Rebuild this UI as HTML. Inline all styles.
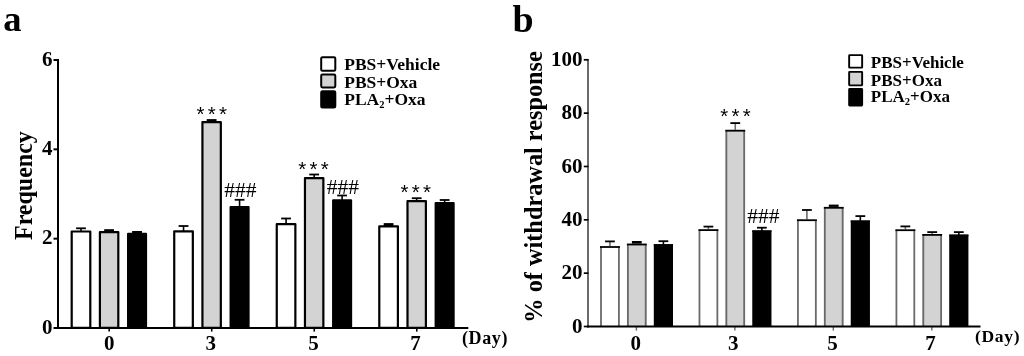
<!DOCTYPE html>
<html><head><meta charset="utf-8"><title>Figure</title>
<style>html,body{margin:0;padding:0;background:#fff;width:1024px;height:356px;overflow:hidden}svg{display:block;will-change:transform}</style>
</head><body>
<svg width="1024" height="356" viewBox="0 0 1024 356">
<rect width="1024" height="356" fill="#fff"/>
<text transform="translate(3.30,30.60) scale(1.03,1.0)" font-family='"Liberation Serif", serif' font-size="35.5" font-weight="bold" text-anchor="start" >a</text>
<line x1="81.00" y1="228.30" x2="81.00" y2="231.40" stroke="#000" stroke-width="1.6" />
<line x1="76.10" y1="228.30" x2="85.90" y2="228.30" stroke="#000" stroke-width="1.8" />
<rect x="71.70" y="231.50" width="18.60" height="96.40" rx="0" fill="#fff" stroke="#000" stroke-width="2.2" stroke-linejoin="round"/>
<rect x="104.20" y="229.20" width="9.80" height="2.80" fill="#000"/>
<rect x="99.90" y="232.10" width="18.40" height="95.80" rx="0" fill="#d3d3d3" stroke="#000" stroke-width="2.2" stroke-linejoin="round"/>
<rect x="132.15" y="231.00" width="9.80" height="2.70" fill="#000"/>
<rect x="128.10" y="233.80" width="17.90" height="94.10" rx="0" fill="#000" stroke="#000" stroke-width="2.2" stroke-linejoin="round"/>
<line x1="109.20" y1="329.00" x2="109.20" y2="331.60" stroke="#000" stroke-width="1.6" />
<text x="109.20" y="350.20" font-family='"Liberation Serif", serif' font-size="21" font-weight="bold" text-anchor="middle" >0</text>
<line x1="183.53" y1="226.00" x2="183.53" y2="231.20" stroke="#000" stroke-width="1.6" />
<line x1="178.63" y1="226.00" x2="188.43" y2="226.00" stroke="#000" stroke-width="1.8" />
<rect x="174.23" y="231.30" width="18.60" height="96.60" rx="0" fill="#fff" stroke="#000" stroke-width="2.2" stroke-linejoin="round"/>
<rect x="206.73" y="119.10" width="9.80" height="3.00" fill="#000"/>
<rect x="202.43" y="122.20" width="18.40" height="205.70" rx="0" fill="#d3d3d3" stroke="#000" stroke-width="2.2" stroke-linejoin="round"/>
<line x1="239.58" y1="199.80" x2="239.58" y2="206.90" stroke="#000" stroke-width="1.6" />
<line x1="234.68" y1="199.80" x2="244.48" y2="199.80" stroke="#000" stroke-width="1.8" />
<rect x="230.63" y="207.00" width="17.90" height="120.90" rx="0" fill="#000" stroke="#000" stroke-width="2.2" stroke-linejoin="round"/>
<line x1="211.73" y1="329.00" x2="211.73" y2="331.60" stroke="#000" stroke-width="1.6" />
<text x="210.73" y="350.20" font-family='"Liberation Serif", serif' font-size="21" font-weight="bold" text-anchor="middle" >3</text>
<line x1="286.06" y1="218.50" x2="286.06" y2="224.10" stroke="#000" stroke-width="1.6" />
<line x1="281.16" y1="218.50" x2="290.96" y2="218.50" stroke="#000" stroke-width="1.8" />
<rect x="276.76" y="224.20" width="18.60" height="103.70" rx="0" fill="#fff" stroke="#000" stroke-width="2.2" stroke-linejoin="round"/>
<line x1="314.16" y1="174.50" x2="314.16" y2="178.10" stroke="#000" stroke-width="1.6" />
<line x1="309.26" y1="174.50" x2="319.06" y2="174.50" stroke="#000" stroke-width="1.8" />
<rect x="304.96" y="178.20" width="18.40" height="149.70" rx="0" fill="#d3d3d3" stroke="#000" stroke-width="2.2" stroke-linejoin="round"/>
<line x1="342.11" y1="195.50" x2="342.11" y2="200.30" stroke="#000" stroke-width="1.6" />
<line x1="337.21" y1="195.50" x2="347.01" y2="195.50" stroke="#000" stroke-width="1.8" />
<rect x="333.16" y="200.40" width="17.90" height="127.50" rx="0" fill="#000" stroke="#000" stroke-width="2.2" stroke-linejoin="round"/>
<line x1="314.26" y1="329.00" x2="314.26" y2="331.60" stroke="#000" stroke-width="1.6" />
<text x="313.61" y="350.20" font-family='"Liberation Serif", serif' font-size="21" font-weight="bold" text-anchor="middle" >5</text>
<rect x="383.69" y="223.10" width="9.80" height="3.10" fill="#000"/>
<rect x="379.29" y="226.30" width="18.60" height="101.60" rx="0" fill="#fff" stroke="#000" stroke-width="2.2" stroke-linejoin="round"/>
<line x1="416.69" y1="198.20" x2="416.69" y2="201.10" stroke="#000" stroke-width="1.6" />
<line x1="411.79" y1="198.20" x2="421.59" y2="198.20" stroke="#000" stroke-width="1.8" />
<rect x="407.49" y="201.20" width="18.40" height="126.70" rx="0" fill="#d3d3d3" stroke="#000" stroke-width="2.2" stroke-linejoin="round"/>
<line x1="444.64" y1="200.00" x2="444.64" y2="203.00" stroke="#000" stroke-width="1.6" />
<line x1="439.74" y1="200.00" x2="449.54" y2="200.00" stroke="#000" stroke-width="1.8" />
<rect x="435.69" y="203.10" width="17.90" height="124.80" rx="0" fill="#000" stroke="#000" stroke-width="2.2" stroke-linejoin="round"/>
<line x1="416.79" y1="329.00" x2="416.79" y2="331.60" stroke="#000" stroke-width="1.6" />
<text x="415.39" y="350.20" font-family='"Liberation Serif", serif' font-size="21" font-weight="bold" text-anchor="middle" >7</text>
<line x1="58.00" y1="59.00" x2="58.00" y2="329.00" stroke="#000" stroke-width="2" />
<line x1="57.00" y1="328.00" x2="468.30" y2="328.00" stroke="#000" stroke-width="2" />
<line x1="53.50" y1="328.00" x2="58.00" y2="328.00" stroke="#000" stroke-width="2" />
<text x="52.60" y="334.30" font-family='"Liberation Serif", serif' font-size="21" font-weight="bold" text-anchor="end" >0</text>
<line x1="53.50" y1="238.67" x2="58.00" y2="238.67" stroke="#000" stroke-width="2" />
<text x="52.60" y="244.27" font-family='"Liberation Serif", serif' font-size="21" font-weight="bold" text-anchor="end" >2</text>
<line x1="53.50" y1="149.33" x2="58.00" y2="149.33" stroke="#000" stroke-width="2" />
<text x="52.60" y="154.93" font-family='"Liberation Serif", serif' font-size="21" font-weight="bold" text-anchor="end" >4</text>
<line x1="53.50" y1="60.00" x2="58.00" y2="60.00" stroke="#000" stroke-width="2" />
<text x="52.60" y="66.30" font-family='"Liberation Serif", serif' font-size="21" font-weight="bold" text-anchor="end" >6</text>
<text x="462.00" y="343.50" font-family='"Liberation Serif", serif' font-size="18" font-weight="bold" text-anchor="start" letter-spacing="0.6">(Day)</text>
<text x="196.50" y="120.50" font-family='"Liberation Sans", sans-serif' font-size="20.5" font-weight="normal" text-anchor="start" letter-spacing="3.3">***</text>
<text x="298.20" y="176.20" font-family='"Liberation Sans", sans-serif' font-size="20.5" font-weight="normal" text-anchor="start" letter-spacing="3.3">***</text>
<text x="400.40" y="198.70" font-family='"Liberation Sans", sans-serif' font-size="20.5" font-weight="normal" text-anchor="start" letter-spacing="3.3">***</text>
<text x="224.20" y="196.60" font-family='"Liberation Serif", serif' font-size="21.5" font-weight="normal" text-anchor="start" >###</text>
<text x="326.70" y="193.90" font-family='"Liberation Serif", serif' font-size="21.5" font-weight="normal" text-anchor="start" >###</text>
<rect x="321.20" y="57.20" width="14.10" height="13.60" rx="1.3" fill="#fff" stroke="#000" stroke-width="2.0"/>
<text x="344.20" y="70.10" font-family='"Liberation Serif", serif' font-size="17.5" font-weight="bold" text-anchor="start" >PBS+Vehicle</text>
<rect x="321.20" y="74.40" width="14.10" height="13.00" rx="1.3" fill="#d3d3d3" stroke="#000" stroke-width="2.0"/>
<text x="344.20" y="87.70" font-family='"Liberation Serif", serif' font-size="17.5" font-weight="bold" text-anchor="start" >PBS+Oxa</text>
<rect x="321.20" y="91.20" width="14.10" height="16.30" rx="1.3" fill="#000" stroke="#000" stroke-width="2.0"/>
<text x="344.20" y="104.70" font-family='"Liberation Serif", serif' font-size="17.5" font-weight="bold" text-anchor="start" >PLA<tspan font-size="10.5" dy="3">2</tspan><tspan dy="-3">+Oxa</tspan></text>
<text transform="translate(31.6,240.0) rotate(-90) scale(1,1.06)" font-family='"Liberation Serif", serif' font-size="24" font-weight="bold">Frequency</text>
<text x="512.60" y="31.50" font-family='"Liberation Serif", serif' font-size="38" font-weight="bold" text-anchor="start" >b</text>
<line x1="609.95" y1="241.40" x2="609.95" y2="247.10" stroke="#6a6a6a" stroke-width="1.6" />
<line x1="605.05" y1="241.40" x2="614.85" y2="241.40" stroke="#000" stroke-width="1.8" />
<rect x="600.00" y="246.10" width="19.90" height="80.40" fill="#fff"/>
<line x1="601.00" y1="246.60" x2="601.00" y2="326.50" stroke="#6a6a6a" stroke-width="1.8" />
<line x1="618.90" y1="246.60" x2="618.90" y2="326.50" stroke="#6a6a6a" stroke-width="1.8" />
<line x1="600.00" y1="247.00" x2="619.90" y2="247.00" stroke="#000" stroke-width="1.8" />
<rect x="631.90" y="241.00" width="9.80" height="3.60" fill="#000"/>
<rect x="626.90" y="243.60" width="19.80" height="82.90" fill="#d3d3d3"/>
<line x1="627.90" y1="244.10" x2="627.90" y2="326.50" stroke="#6a6a6a" stroke-width="1.8" />
<line x1="645.70" y1="244.10" x2="645.70" y2="326.50" stroke="#6a6a6a" stroke-width="1.8" />
<line x1="626.90" y1="244.50" x2="646.70" y2="244.50" stroke="#000" stroke-width="1.8" />
<line x1="663.40" y1="241.20" x2="663.40" y2="245.20" stroke="#000" stroke-width="1.6" />
<line x1="658.50" y1="241.20" x2="668.30" y2="241.20" stroke="#000" stroke-width="1.8" />
<rect x="653.80" y="244.20" width="19.20" height="82.30" fill="#000"/>
<line x1="653.80" y1="245.10" x2="673.00" y2="245.10" stroke="#000" stroke-width="1.8" />
<line x1="636.40" y1="327.00" x2="636.40" y2="330.60" stroke="#6a6a6a" stroke-width="1.4" />
<text x="635.80" y="349.80" font-family='"Liberation Serif", serif' font-size="21" font-weight="bold" text-anchor="middle" >0</text>
<line x1="708.42" y1="226.60" x2="708.42" y2="230.20" stroke="#6a6a6a" stroke-width="1.6" />
<line x1="703.52" y1="226.60" x2="713.32" y2="226.60" stroke="#000" stroke-width="1.8" />
<rect x="698.47" y="229.20" width="19.90" height="97.30" fill="#fff"/>
<line x1="699.47" y1="229.70" x2="699.47" y2="326.50" stroke="#6a6a6a" stroke-width="1.8" />
<line x1="717.37" y1="229.70" x2="717.37" y2="326.50" stroke="#6a6a6a" stroke-width="1.8" />
<line x1="698.47" y1="230.10" x2="718.37" y2="230.10" stroke="#000" stroke-width="1.8" />
<line x1="735.27" y1="123.10" x2="735.27" y2="130.80" stroke="#6a6a6a" stroke-width="1.6" />
<line x1="730.37" y1="123.10" x2="740.17" y2="123.10" stroke="#000" stroke-width="1.8" />
<rect x="725.37" y="129.80" width="19.80" height="196.70" fill="#d3d3d3"/>
<line x1="726.37" y1="130.30" x2="726.37" y2="326.50" stroke="#6a6a6a" stroke-width="1.8" />
<line x1="744.17" y1="130.30" x2="744.17" y2="326.50" stroke="#6a6a6a" stroke-width="1.8" />
<line x1="725.37" y1="130.70" x2="745.17" y2="130.70" stroke="#000" stroke-width="1.8" />
<line x1="761.87" y1="227.70" x2="761.87" y2="231.40" stroke="#000" stroke-width="1.6" />
<line x1="756.97" y1="227.70" x2="766.77" y2="227.70" stroke="#000" stroke-width="1.8" />
<rect x="752.27" y="230.40" width="19.20" height="96.10" fill="#000"/>
<line x1="752.27" y1="231.30" x2="771.47" y2="231.30" stroke="#000" stroke-width="1.8" />
<line x1="734.87" y1="327.00" x2="734.87" y2="330.60" stroke="#6a6a6a" stroke-width="1.4" />
<text x="733.37" y="349.80" font-family='"Liberation Serif", serif' font-size="21" font-weight="bold" text-anchor="middle" >3</text>
<line x1="806.89" y1="210.00" x2="806.89" y2="220.30" stroke="#6a6a6a" stroke-width="1.6" />
<line x1="801.99" y1="210.00" x2="811.79" y2="210.00" stroke="#000" stroke-width="1.8" />
<rect x="796.94" y="219.30" width="19.90" height="107.20" fill="#fff"/>
<line x1="797.94" y1="219.80" x2="797.94" y2="326.50" stroke="#6a6a6a" stroke-width="1.8" />
<line x1="815.84" y1="219.80" x2="815.84" y2="326.50" stroke="#6a6a6a" stroke-width="1.8" />
<line x1="796.94" y1="220.20" x2="816.84" y2="220.20" stroke="#000" stroke-width="1.8" />
<rect x="828.84" y="204.60" width="9.80" height="3.30" fill="#000"/>
<rect x="823.84" y="206.90" width="19.80" height="119.60" fill="#d3d3d3"/>
<line x1="824.84" y1="207.40" x2="824.84" y2="326.50" stroke="#6a6a6a" stroke-width="1.8" />
<line x1="842.64" y1="207.40" x2="842.64" y2="326.50" stroke="#6a6a6a" stroke-width="1.8" />
<line x1="823.84" y1="207.80" x2="843.64" y2="207.80" stroke="#000" stroke-width="1.8" />
<line x1="860.34" y1="216.10" x2="860.34" y2="221.50" stroke="#000" stroke-width="1.6" />
<line x1="855.44" y1="216.10" x2="865.24" y2="216.10" stroke="#000" stroke-width="1.8" />
<rect x="850.74" y="220.50" width="19.20" height="106.00" fill="#000"/>
<line x1="850.74" y1="221.40" x2="869.94" y2="221.40" stroke="#000" stroke-width="1.8" />
<line x1="833.34" y1="327.00" x2="833.34" y2="330.60" stroke="#6a6a6a" stroke-width="1.4" />
<text x="832.54" y="349.80" font-family='"Liberation Serif", serif' font-size="21" font-weight="bold" text-anchor="middle" >5</text>
<line x1="905.36" y1="226.40" x2="905.36" y2="230.30" stroke="#6a6a6a" stroke-width="1.6" />
<line x1="900.46" y1="226.40" x2="910.26" y2="226.40" stroke="#000" stroke-width="1.8" />
<rect x="895.41" y="229.30" width="19.90" height="97.20" fill="#fff"/>
<line x1="896.41" y1="229.80" x2="896.41" y2="326.50" stroke="#6a6a6a" stroke-width="1.8" />
<line x1="914.31" y1="229.80" x2="914.31" y2="326.50" stroke="#6a6a6a" stroke-width="1.8" />
<line x1="895.41" y1="230.20" x2="915.31" y2="230.20" stroke="#000" stroke-width="1.8" />
<line x1="932.21" y1="232.10" x2="932.21" y2="235.00" stroke="#6a6a6a" stroke-width="1.6" />
<line x1="927.31" y1="232.10" x2="937.11" y2="232.10" stroke="#000" stroke-width="1.8" />
<rect x="922.31" y="234.00" width="19.80" height="92.50" fill="#d3d3d3"/>
<line x1="923.31" y1="234.50" x2="923.31" y2="326.50" stroke="#6a6a6a" stroke-width="1.8" />
<line x1="941.11" y1="234.50" x2="941.11" y2="326.50" stroke="#6a6a6a" stroke-width="1.8" />
<line x1="922.31" y1="234.90" x2="942.11" y2="234.90" stroke="#000" stroke-width="1.8" />
<line x1="958.81" y1="232.10" x2="958.81" y2="235.60" stroke="#000" stroke-width="1.6" />
<line x1="953.91" y1="232.10" x2="963.71" y2="232.10" stroke="#000" stroke-width="1.8" />
<rect x="949.21" y="234.60" width="19.20" height="91.90" fill="#000"/>
<line x1="949.21" y1="235.50" x2="968.41" y2="235.50" stroke="#000" stroke-width="1.8" />
<line x1="931.81" y1="327.00" x2="931.81" y2="330.60" stroke="#6a6a6a" stroke-width="1.4" />
<text x="930.41" y="349.80" font-family='"Liberation Serif", serif' font-size="21" font-weight="bold" text-anchor="middle" >7</text>
<line x1="588.00" y1="59.00" x2="588.00" y2="327.50" stroke="#6a6a6a" stroke-width="2" />
<line x1="583.80" y1="326.50" x2="588.50" y2="326.50" stroke="#000" stroke-width="1.7" />
<text x="582.50" y="332.70" font-family='"Liberation Serif", serif' font-size="21" font-weight="bold" text-anchor="end" >0</text>
<line x1="583.80" y1="273.16" x2="588.50" y2="273.16" stroke="#000" stroke-width="1.7" />
<text x="582.50" y="279.36" font-family='"Liberation Serif", serif' font-size="21" font-weight="bold" text-anchor="end" >20</text>
<line x1="583.80" y1="219.82" x2="588.50" y2="219.82" stroke="#000" stroke-width="1.7" />
<text x="582.50" y="226.02" font-family='"Liberation Serif", serif' font-size="21" font-weight="bold" text-anchor="end" >40</text>
<line x1="583.80" y1="166.48" x2="588.50" y2="166.48" stroke="#000" stroke-width="1.7" />
<text x="582.50" y="172.68" font-family='"Liberation Serif", serif' font-size="21" font-weight="bold" text-anchor="end" >60</text>
<line x1="583.80" y1="113.14" x2="588.50" y2="113.14" stroke="#000" stroke-width="1.7" />
<text x="582.50" y="119.34" font-family='"Liberation Serif", serif' font-size="21" font-weight="bold" text-anchor="end" >80</text>
<line x1="583.80" y1="59.80" x2="588.50" y2="59.80" stroke="#000" stroke-width="1.7" />
<text x="582.50" y="66.00" font-family='"Liberation Serif", serif' font-size="21" font-weight="bold" text-anchor="end" >100</text>
<line x1="587.00" y1="326.50" x2="980.50" y2="326.50" stroke="#000" stroke-width="1.9" />
<text x="975.00" y="341.80" font-family='"Liberation Serif", serif' font-size="17.5" font-weight="bold" text-anchor="start" letter-spacing="0.7">(Day)</text>
<text x="720.30" y="122.90" font-family='"Liberation Sans", sans-serif' font-size="20.5" font-weight="normal" text-anchor="start" letter-spacing="3.3">***</text>
<text x="747.20" y="223.00" font-family='"Liberation Serif", serif' font-size="21.5" font-weight="normal" text-anchor="start" >###</text>
<rect x="849.15" y="55.15" width="13.00" height="12.50" rx="0.5" fill="#fff" stroke="#000" stroke-width="1.9"/>
<text x="870.80" y="67.90" font-family='"Liberation Serif", serif' font-size="17" font-weight="bold" text-anchor="start" >PBS+Vehicle</text>
<rect x="849.15" y="71.85" width="13.00" height="13.50" rx="0.5" fill="#d3d3d3" stroke="#000" stroke-width="1.9"/>
<text x="870.80" y="85.80" font-family='"Liberation Serif", serif' font-size="17" font-weight="bold" text-anchor="start" >PBS+Oxa</text>
<rect x="849.15" y="88.95" width="13.00" height="16.60" rx="0.5" fill="#000" stroke="#000" stroke-width="1.9"/>
<text x="870.80" y="101.70" font-family='"Liberation Serif", serif' font-size="17" font-weight="bold" text-anchor="start" >PLA<tspan font-size="10.5" dy="3">2</tspan><tspan dy="-3">+Oxa</tspan></text>
<text transform="translate(541.8,322.7) rotate(-90)" font-family='"Liberation Serif", serif' font-size="24.3" font-weight="bold">% of withdrawal response</text>
</svg>
</body></html>
